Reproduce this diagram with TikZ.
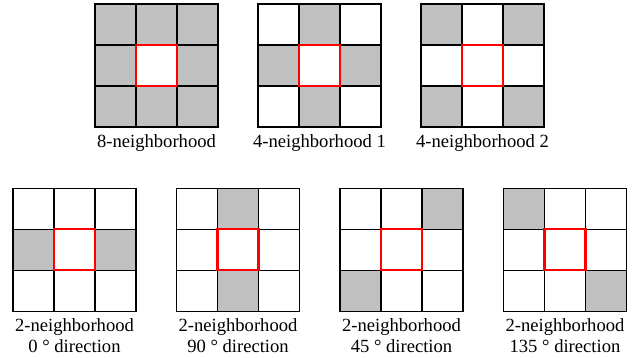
\documentclass[tikz,border=0pt]{standalone}
\usepackage{fontspec}
\setmainfont{Liberation Serif}
\usepackage{tikz}
\usetikzlibrary{positioning}
\definecolor{Shade}{HTML}{C0C0C0}
\definecolor{Core}{HTML}{FF0000}

\tikzset{
  cell/.style={draw=black, line width=1.2pt, minimum size=41pt, inner sep=0pt, outer sep=0pt},
  corebox/.style={draw=Core, line width=2.2pt, minimum size=41pt, inner sep=0pt, outer sep=0pt},
  caption/.style={font=\fontsize{18.6}{20.6}\selectfont, align=center, inner sep=0pt}
}

% name, centre x, centre y, shaded cells (column/row offsets)
\newcommand{\pixgrid}[4]{%
  \foreach \sx/\sy in {#4}
    \fill[Shade] ({#2+41*\sx-20.5},{#3+41*\sy-20.5}) rectangle +(41,41);
  \foreach \cx/\nx in {-1/l,0/c,1/r}
    \foreach \cy/\ny in {-1/b,0/m,1/t}
      \node[cell] (#1-\nx\ny) at ({#2+41*\cx},{#3+41*\cy}) {};
  \node[corebox] (#1-core) at (#2,#3) {};
}

\begin{document}
\begin{tikzpicture}[x=1pt,y=1pt]
  \useasboundingbox (0,0) rectangle (635,358);

  % top row
  \pixgrid{eight}{156.5}{292.5}{-1/1,0/1,1/1,-1/0,1/0,-1/-1,0/-1,1/-1}
  \pixgrid{fourA}{319.5}{292.5}{0/1,-1/0,1/0,0/-1}
  \pixgrid{fourB}{482.5}{292.5}{-1/1,1/1,-1/-1,1/-1}
  \node[caption, below=7pt of eight-cb] (eight-lbl) {8-neighborhood};
  \node[caption, below=7pt of fourA-cb] (fourA-lbl) {4-neighborhood 1};
  \node[caption, below=7pt of fourB-cb] (fourB-lbl) {4-neighborhood 2};

  % bottom row
  \pixgrid{dirA}{74.5}{108.2}{-1/0,1/0}
  \pixgrid{dirB}{238}{108.2}{0/1,0/-1}
  \pixgrid{dirC}{401.5}{108.2}{1/1,-1/-1}
  \pixgrid{dirD}{565}{108.2}{-1/1,1/-1}
  \node[caption, below=7.5pt of dirA-cb] (dirA-lbl) {2-neighborhood\\0 ° direction};
  \node[caption, below=7.5pt of dirB-cb] (dirB-lbl) {2-neighborhood\\90 ° direction};
  \node[caption, below=7.5pt of dirC-cb] (dirC-lbl) {2-neighborhood\\45 ° direction};
  \node[caption, below=7.5pt of dirD-cb] (dirD-lbl) {2-neighborhood\\135 ° direction};
\end{tikzpicture}
\end{document}
